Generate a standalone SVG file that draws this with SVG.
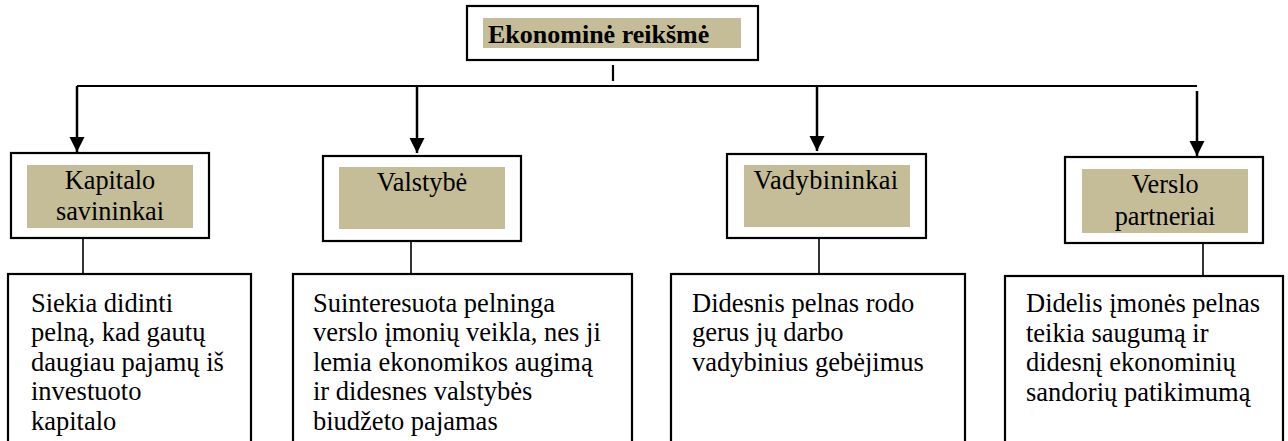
<svg xmlns="http://www.w3.org/2000/svg" width="1288" height="441" viewBox="0 0 1288 441">
  <style>
    .frame { fill: #ffffff; stroke: #000000; stroke-width: 2.2; }
    .band { fill: #C4BD97; stroke: none; }
    text { font-family: 'Liberation Serif', 'DejaVu Serif', serif; fill: #000000; }
    .title { font-size: 26px; font-weight: bold; }
    .label { font-size: 26.3px; text-anchor: middle; }
    .body { font-size: 26.5px; }
    .link { fill: none; stroke: #000000; stroke-width: 2.2; }
    .thin { fill: none; stroke: #000000; stroke-width: 1.6; }
    .arrow { fill: none; stroke: #000000; stroke-width: 2.5; marker-end: url(#head); }
  </style>
  <defs>
    <marker id="head" markerUnits="userSpaceOnUse" markerWidth="15" markerHeight="16" refX="15" refY="7.5" orient="auto" viewBox="0 0 15 15">
      <path d="M0,0 L15,7.5 L0,15 z" fill="#000000"/>
    </marker>
  </defs>

  <rect width="1288" height="441" fill="#ffffff"/>

  <!-- connectors -->
  <g id="connectors">
    <line class="link" x1="613" y1="65" x2="613" y2="81"/>
    <polyline class="link" points="77,86 1197,86"/>
    <line class="arrow" x1="77" y1="86" x2="77" y2="152"/>
    <line class="arrow" x1="417" y1="86" x2="417" y2="153"/>
    <line class="arrow" x1="817" y1="86" x2="817" y2="151"/>
    <line class="arrow" x1="1197" y1="91" x2="1197" y2="156"/>
    <line class="thin" x1="83" y1="239" x2="83" y2="274"/>
    <line class="thin" x1="411" y1="242" x2="411" y2="274"/>
    <line class="thin" x1="819" y1="239" x2="819" y2="274"/>
    <line class="thin" x1="1203" y1="244" x2="1203" y2="276"/>
  </g>

  <!-- top -->
  <g id="ekonomine-reiksme">
    <rect class="frame" x="467" y="6" width="291" height="54"/>
    <rect class="band" x="483" y="18" width="258" height="30"/>
    <text class="title" x="488" y="43">Ekonominė reikšmė</text>
  </g>

  <!-- stakeholder groups -->
  <g id="kapitalo-savininkai">
    <rect class="frame" x="11" y="153" width="198" height="85"/>
    <rect class="band" x="27" y="165" width="166" height="63"/>
    <text class="label" x="110" y="189">Kapitalo</text>
    <text class="label" x="110" y="220">savininkai</text>
  </g>
  <g id="valstybe">
    <rect class="frame" x="323" y="156" width="198" height="85"/>
    <rect class="band" x="339" y="167" width="166" height="62"/>
    <text class="label" x="422" y="191">Valstybė</text>
  </g>
  <g id="vadybininkai">
    <rect class="frame" x="727" y="154" width="199" height="84"/>
    <rect class="band" x="744" y="165" width="166" height="62"/>
    <text class="label" x="826" y="189" letter-spacing="0.4">Vadybininkai</text>
  </g>
  <g id="verslo-partneriai">
    <rect class="frame" x="1065" y="157" width="198" height="86"/>
    <rect class="band" x="1082" y="169" width="166" height="64"/>
    <text class="label" x="1165" y="193">Verslo</text>
    <text class="label" x="1165" y="225">partneriai</text>
  </g>

  <!-- interests -->
  <g id="interesas-kapitalo">
    <rect class="frame" x="8" y="274" width="243" height="180"/>
    <text class="body" x="31" y="311.5">Siekia didinti</text>
    <text class="body" x="31" y="341">pelną, kad gautų</text>
    <text class="body" x="31" y="370.5">daugiau pajamų iš</text>
    <text class="body" x="31" y="400">investuoto</text>
    <text class="body" x="31" y="429.5">kapitalo</text>
  </g>
  <g id="interesas-valstybes">
    <rect class="frame" x="293" y="274" width="339" height="180"/>
    <text class="body" x="313" y="311.5">Suinteresuota pelninga</text>
    <text class="body" x="313" y="341">verslo įmonių veikla, nes ji</text>
    <text class="body" x="313" y="370.5">lemia ekonomikos augimą</text>
    <text class="body" x="313" y="400">ir didesnes valstybės</text>
    <text class="body" x="313" y="429.5">biudžeto pajamas</text>
  </g>
  <g id="interesas-vadybininku">
    <rect class="frame" x="671" y="274" width="294" height="180"/>
    <text class="body" x="692" y="311.5">Didesnis pelnas rodo</text>
    <text class="body" x="692" y="341">gerus jų darbo</text>
    <text class="body" x="692" y="370.5">vadybinius gebėjimus</text>
  </g>
  <g id="interesas-partneriu">
    <rect class="frame" x="1005" y="276" width="278" height="180"/>
    <text class="body" x="1026" y="312">Didelis įmonės pelnas</text>
    <text class="body" x="1026" y="341.5">teikia saugumą ir</text>
    <text class="body" x="1026" y="371">didesnį ekonominių</text>
    <text class="body" x="1026" y="400.5">sandorių patikimumą</text>
  </g>
</svg>
